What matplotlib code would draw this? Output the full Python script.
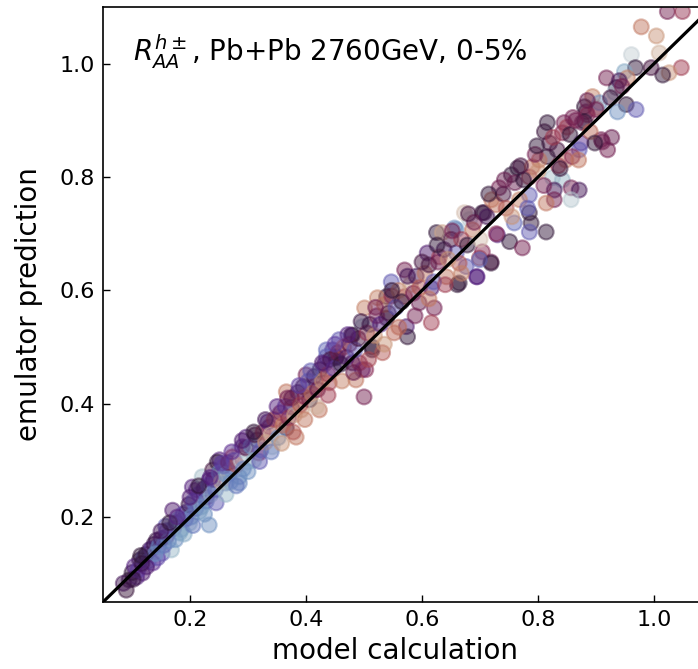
import matplotlib
matplotlib.use("Agg")
import matplotlib.pyplot as plt
import numpy as np

# ---- data: model calculation (x), emulator prediction (y), colour value (twilight cmap) ----
a_model = [0.211,0.228,0.233,0.216,0.194,0.170,0.199,0.182,0.159,0.142,
           0.130,0.152,0.168,0.136,0.113,0.118,0.095,0.090,0.108,0.144,
           0.204,0.221,0.239,0.251,0.273,0.285,0.262,0.247,0.233,0.268,
           0.285,0.285,0.273,0.299,0.290,0.085,0.100,0.104,0.110,0.120,
           0.124,0.128,0.134,0.138,0.146,0.150,0.155,0.160,0.163,0.172,
           0.176,0.180,0.185,0.188,0.192,0.198,0.202,0.206,0.210,0.215,
           0.220,0.224,0.228,0.232,0.236,0.240,0.244,0.250,0.254,0.258,
           0.262,0.266,0.270,0.276,0.280,0.288,0.292,0.296,0.117,0.158]
a_emul = [0.248,0.235,0.186,0.209,0.209,0.212,0.189,0.172,0.165,0.159,
          0.142,0.136,0.142,0.119,0.124,0.101,0.089,0.071,0.094,0.128,
          0.253,0.271,0.283,0.301,0.288,0.271,0.260,0.297,0.265,0.278,
          0.260,0.318,0.306,0.297,0.324,0.083,0.102,0.113,0.106,0.128,
          0.134,0.122,0.144,0.152,0.148,0.162,0.150,0.176,0.158,0.180,
          0.190,0.196,0.178,0.205,0.196,0.222,0.200,0.228,0.215,0.240,
          0.218,0.250,0.228,0.256,0.240,0.266,0.248,0.278,0.262,0.290,
          0.275,0.296,0.262,0.300,0.292,0.300,0.285,0.322,0.118,0.184]
a_color = [0.40,0.45,0.20,0.15,0.35,0.42,0.10,0.15,0.40,0.48,
           0.45,0.30,0.12,0.38,0.50,0.42,0.50,0.52,0.40,0.33,
           0.40,0.10,0.55,0.40,0.30,0.20,0.25,0.50,0.42,0.28,
           0.22,0.08,0.70,0.10,0.40,0.45,0.50,0.40,0.35,0.30,
           0.50,0.30,0.36,0.47,0.22,0.44,0.28,0.35,0.22,0.30,
           0.45,0.18,0.18,0.33,0.30,0.48,0.20,0.28,0.27,0.35,
           0.15,0.40,0.24,0.30,0.12,0.42,0.26,0.22,0.90,0.35,
           0.18,0.60,0.20,0.30,0.75,0.05,0.22,0.58,0.48,0.30]

b_model = [0.316,0.297,0.319,0.342,0.337,0.349,0.366,0.383,0.366,0.375,
           0.392,0.423,0.406,0.400,0.418,0.440,0.446,0.452,0.435,0.480,
           0.514,0.497,0.486,0.500,0.478,0.497,0.457,0.514,0.452,0.435,
           0.492,0.532,0.503,0.539,0.573,0.575,0.552,0.480,0.570,0.547,
           0.539,0.523,0.501,0.595,0.570,0.305,0.310,0.312,0.322,0.326,
           0.330,0.334,0.340,0.345,0.352,0.356,0.360,0.364,0.370,0.375,
           0.380,0.386,0.390,0.395,0.398,0.404,0.410,0.414,0.420,0.424,
           0.428,0.432,0.438,0.442,0.448,0.455,0.460,0.465,0.470,0.475,
           0.484,0.490,0.505,0.510,0.518,0.522,0.528,0.535,0.542,0.548,
           0.555,0.560,0.565,0.580,0.585,0.590,0.596]
b_emul = [0.336,0.341,0.313,0.324,0.359,0.377,0.357,0.341,0.421,0.394,
          0.389,0.389,0.407,0.451,0.433,0.437,0.495,0.481,0.483,0.472,
          0.495,0.460,0.442,0.412,0.521,0.536,0.513,0.500,0.483,0.495,
          0.472,0.490,0.460,0.551,0.536,0.518,0.525,0.521,0.636,0.615,
          0.589,0.587,0.569,0.578,0.589,0.325,0.300,0.345,0.318,0.350,
          0.332,0.368,0.346,0.372,0.340,0.384,0.362,0.395,0.375,0.410,
          0.380,0.420,0.398,0.430,0.412,0.440,0.418,0.448,0.425,0.460,
          0.440,0.470,0.452,0.478,0.462,0.490,0.470,0.500,0.482,0.505,
          0.495,0.515,0.525,0.540,0.520,0.555,0.540,0.575,0.560,0.590,
          0.570,0.600,0.580,0.610,0.595,0.625,0.605]
b_color = [0.45,0.40,0.65,0.08,0.62,0.92,0.50,0.80,0.80,0.50,
           0.88,0.80,0.50,0.62,0.70,0.72,0.40,0.50,0.30,0.45,
           0.50,0.40,0.80,0.62,0.50,0.10,0.30,0.50,0.52,0.28,
           0.65,0.75,0.65,0.50,0.42,0.50,0.78,0.52,0.62,0.30,
           0.50,0.82,0.82,0.60,0.72,0.20,0.12,0.55,0.30,0.68,
           0.85,0.40,0.90,0.72,0.20,0.62,0.80,0.35,0.66,0.58,
           0.88,0.45,0.75,0.52,0.65,0.30,0.80,0.45,0.60,0.50,
           0.85,0.40,0.70,0.55,0.35,0.62,0.50,0.75,0.42,0.60,
           0.30,0.55,0.68,0.48,0.85,0.62,0.40,0.80,0.55,0.65,
           0.30,0.82,0.50,0.88,0.62,0.45,0.75]

c_model = [0.625,0.659,0.682,0.704,0.609,0.630,0.659,0.676,0.699,0.719,
           0.694,0.661,0.616,0.621,0.616,0.707,0.728,0.673,0.656,0.687,
           0.704,0.719,0.699,0.664,0.695,0.664,0.642,0.635,0.816,0.811,
           0.845,0.842,0.876,0.883,0.900,0.911,0.920,0.874,0.871,0.833,
           0.816,0.802,0.848,0.859,0.765,0.754,0.790,0.785,0.825,0.842,
           0.828,0.857,0.871,0.828,0.857,0.814,0.733,0.785,0.768,0.785,
           0.788,0.814,0.785,0.759,0.730,0.751,0.773,1.023,1.049,0.978,
           1.004,0.961,1.009,1.047,1.026,1.015,0.995,0.968,0.949,0.954,
           0.918,0.935,0.932,0.894,0.952,0.969,0.937,0.906,0.880,0.900,
           0.885,0.850,0.880,0.909,0.927,0.605,0.612,0.620,0.628,0.638,
           0.645,0.650,0.668,0.678,0.690,0.712,0.720,0.740,0.745,0.760,
           0.775,0.795,0.800,0.820,0.835,0.855,0.865,0.890,0.925,0.940]
c_emul = [0.702,0.707,0.725,0.737,0.666,0.659,0.666,0.642,0.657,0.650,
          0.624,0.610,0.604,0.569,0.543,0.737,0.751,0.737,0.710,0.707,
          0.668,0.648,0.654,0.648,0.624,0.613,0.624,0.702,0.896,0.880,
          0.896,0.878,0.896,0.915,0.922,0.862,0.848,0.860,0.848,0.848,
          0.836,0.830,0.830,0.836,0.816,0.804,0.818,0.800,0.799,0.795,
          0.777,0.781,0.777,0.760,0.760,0.754,0.781,0.768,0.760,0.737,
          0.719,0.703,0.703,0.719,0.698,0.686,0.675,1.092,1.092,1.065,
          1.049,1.016,1.019,0.993,0.984,0.980,0.993,0.993,0.986,0.975,
          0.975,0.958,0.949,0.942,0.928,0.919,0.915,0.931,0.924,0.919,
          0.910,0.888,0.898,0.866,0.870,0.630,0.645,0.615,0.650,0.672,
          0.655,0.690,0.690,0.680,0.720,0.730,0.760,0.770,0.745,0.790,
          0.795,0.840,0.810,0.860,0.820,0.875,0.900,0.880,0.940,0.970]
c_color = [0.50,0.20,0.08,0.50,0.42,0.70,0.30,0.30,0.72,0.60,
           0.40,0.50,0.42,0.62,0.70,0.52,0.80,0.92,0.20,0.80,
           0.65,0.50,0.28,0.75,0.40,0.50,0.80,0.88,0.50,0.52,
           0.62,0.65,0.60,0.62,0.85,0.62,0.62,0.38,0.30,0.55,
           0.50,0.80,0.80,0.65,0.50,0.50,0.78,0.70,0.10,0.12,
           0.45,0.62,0.45,0.62,0.08,0.80,0.62,0.30,0.82,0.50,
           0.50,0.50,0.30,0.28,0.40,0.50,0.62,0.62,0.68,0.80,
           0.85,0.06,0.90,0.70,0.85,0.50,0.55,0.50,0.15,0.82,
           0.62,0.52,0.10,0.82,0.50,0.30,0.20,0.20,0.50,0.62,
           0.65,0.70,0.50,0.62,0.60,0.80,0.55,0.30,0.62,0.45,
           0.85,0.55,0.70,0.50,0.62,0.45,0.80,0.55,0.75,0.60,
           0.50,0.62,0.85,0.55,0.70,0.50,0.62,0.78,0.55,0.45]

d_model = [0.150,0.165,0.175,0.190,0.200,0.205,0.215,0.225,0.235,0.245,
           0.255,0.262,0.272,0.280,0.290,0.300,0.310,0.320,0.330,0.340,
           0.350,0.358,0.368,0.378,0.388,0.398,0.408,0.418,0.428,0.438,
           0.450,0.462,0.472,0.482,0.495,0.508,0.520,0.535,0.548,0.560,
           0.575,0.588,0.600,0.612,0.626,0.640,0.652,0.668,0.680,0.700,
           0.715,0.728,0.742,0.755,0.770,0.782,0.798,0.810,0.826,0.838,
           0.860,0.870,0.885,0.898,0.945,0.140,0.125,0.102,0.115,0.178]
d_emul = [0.175,0.190,0.160,0.170,0.235,0.185,0.255,0.205,0.270,0.225,
          0.295,0.240,0.315,0.255,0.335,0.280,0.350,0.298,0.372,0.315,
          0.395,0.330,0.410,0.350,0.432,0.372,0.458,0.395,0.472,0.415,
          0.505,0.440,0.522,0.455,0.545,0.478,0.570,0.505,0.600,0.535,
          0.625,0.555,0.650,0.585,0.680,0.610,0.705,0.630,0.735,0.690,
          0.770,0.700,0.795,0.730,0.820,0.745,0.855,0.785,0.870,0.815,
          0.905,0.830,0.935,0.860,0.960,0.135,0.112,0.090,0.132,0.200]
d_color = [0.45,0.50,0.20,0.15,0.42,0.25,0.50,0.20,0.40,0.30,
           0.35,0.12,0.38,0.25,0.42,0.20,0.50,0.30,0.45,0.25,
           0.40,0.85,0.62,0.75,0.35,0.80,0.30,0.90,0.42,0.70,
           0.35,0.82,0.40,0.60,0.48,0.72,0.62,0.85,0.50,0.78,
           0.45,0.62,0.55,0.80,0.50,0.70,0.62,0.82,0.55,0.92,
           0.50,0.65,0.60,0.85,0.55,0.30,0.50,0.62,0.70,0.52,
           0.62,0.80,0.60,0.50,0.62,0.20,0.42,0.48,0.50,0.40]

x_ticks = [0.2, 0.4, 0.6, 0.8, 1.0]
y_ticks = [0.2, 0.4, 0.6, 0.8, 1.0]
lims = (0.05, 1.10)

model = np.array(a_model + b_model + c_model + d_model)
emul = np.array(a_emul + b_emul + c_emul + d_emul)
cval = np.array(a_color + b_color + c_color + d_color)

fig = plt.figure(figsize=(6.98, 6.69), dpi=100)
ax = fig.add_axes([0.1476, 0.1001, 0.8725, 0.8894])

cmap = plt.get_cmap('twilight')
ax.scatter(model, emul, s=115, c=cmap(cval), alpha=0.48, linewidths=1.5,
           edgecolors=cmap(cval), zorder=2)
ax.plot(lims, lims, color='k', lw=2.3, zorder=3)

ax.set_xlim(lims)
ax.set_ylim(lims)
ax.set_xticks(x_ticks)
ax.set_yticks(y_ticks)
ax.set_xticklabels([f"{t:.1f}" for t in x_ticks])
ax.set_yticklabels([f"{t:.1f}" for t in y_ticks])
ax.tick_params(direction='in', labelsize=16, length=5, width=1, top=False, right=False, pad=6)
for sp in ax.spines.values():
    sp.set_linewidth(1.2)

ax.set_xlabel('model calculation', fontsize=20)
ax.set_ylabel('emulator prediction', fontsize=20)
ax.xaxis.set_label_coords(0.479, -0.058)
ax.yaxis.set_label_coords(-0.098, 0.5)

ax.text(0.05, 0.925, r'$R_{AA}^{h\pm}$, Pb+Pb 2760GeV, 0-5%', transform=ax.transAxes,
        fontsize=20, va='center', ha='left')

fig.savefig('out.png', dpi=100)
